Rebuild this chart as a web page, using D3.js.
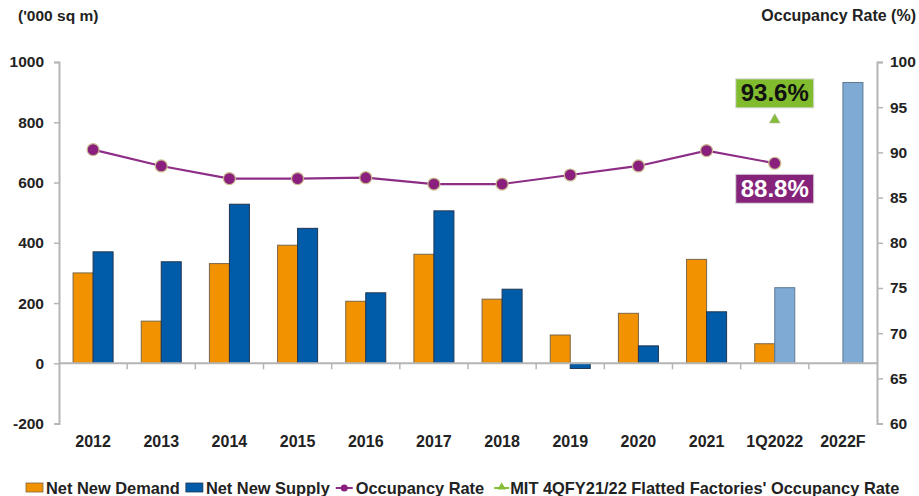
<!DOCTYPE html>
<html>
<head>
<meta charset="utf-8">
<script src="https://cdn.jsdelivr.net/npm/d3@7"></script>
<style>
  body { margin: 0; background: #fff; }
  svg text { font-family: "Liberation Sans", Arial, sans-serif; font-weight: bold; fill: #222; }
</style>
</head>
<body>
<svg id="chart" width="919" height="496"></svg>
<script>
// data
const categories = ["2012","2013","2014","2015","2016","2017","2018","2019","2020","2021","1Q2022","2022F"];
const netNewDemand = [300, 140, 331, 392, 206, 362, 213, 94, 166, 345, 65, null];
const netNewSupply = [370, 337, 528, 448, 234, 506, 246, -17, 58, 171, 251, 932];
const occupancyRate = [90.3, 88.5, 87.1, 87.1, 87.2, 86.5, 86.5, 87.5, 88.5, 90.2, 88.8, null];
const lightSupply = ["1Q2022", "2022F"];
const mitCategory = "1Q2022";
const mitRate = 93.6;
const leftTicks = [-200, 0, 200, 400, 600, 800, 1000];
const rightTicks = [60, 65, 70, 75, 80, 85, 90, 95, 100];
const legendItems = ["Net New Demand", "Net New Supply", "Occupancy Rate", "MIT 4QFY21/22 Flatted Factories' Occupancy Rate"];

const svg = d3.select("#chart");
const margin = {top: 62, bottom: 72, left: 59, right: 42};
const width = 919, height = 496;

const x = d3.scaleBand()
    .domain(categories)
    .range([margin.left, width - margin.right])
    .paddingInner(0.413)
    .paddingOuter(0.2065);
const xSub = d3.scaleBand()
    .domain(["demand", "supply"])
    .range([0, x.bandwidth()]);
const y = d3.scaleLinear().domain([-200, 1000]).range([height - margin.bottom - 0.4, margin.top]);
const y2 = d3.scaleLinear().domain([60, 100]).range([height - margin.bottom - 0.4, margin.top]);

const axisColor = "#b5b5b5";

// titles
svg.append("text").attr("x", 18).attr("y", 21).attr("font-size", 15.5).text("('000 sq m)");
svg.append("text").attr("x", 916).attr("y", 21).attr("font-size", 16).attr("text-anchor", "end").text("Occupancy Rate (%)");

// left axis
const yAxisGroup = svg.append("g").attr("transform", `translate(${margin.left},0)`)
    .call(d3.axisLeft(y).tickValues(leftTicks).tickFormat(d => String(d)).tickSize(5).tickPadding(10));
// right axis
const y2AxisGroup = svg.append("g").attr("transform", `translate(${width - margin.right},0)`)
    .call(d3.axisRight(y2).tickValues(rightTicks).tickFormat(d => String(d)).tickSize(6).tickPadding(7));
[yAxisGroup, y2AxisGroup].forEach(g => {
    g.select(".domain").attr("stroke", axisColor).attr("stroke-width", 2);
    g.selectAll(".tick line").attr("stroke", axisColor).attr("stroke-width", 1.5);
    g.selectAll(".tick text").attr("font-size", 15.5).attr("fill", "#222")
        .attr("font-family", "Liberation Sans, Arial, sans-serif").attr("font-weight", "bold");
});

// bars
const demandRows = categories.map((c, i) => ({c, v: netNewDemand[i]})).filter(d => d.v !== null);
const supplyRows = categories.map((c, i) => ({c, v: netNewSupply[i]})).filter(d => d.v !== null);

svg.selectAll("rect.demand").data(demandRows).enter().append("rect")
    .attr("class", "demand")
    .attr("x", d => x(d.c) + xSub("demand"))
    .attr("y", d => y(Math.max(0, d.v)))
    .attr("width", xSub.bandwidth())
    .attr("height", d => Math.abs(y(d.v) - y(0)))
    .attr("fill", "#f39200")
    .attr("stroke", "#7a6648").attr("stroke-width", 1);

svg.selectAll("rect.supply").data(supplyRows).enter().append("rect")
    .attr("class", "supply")
    .attr("x", d => x(d.c) + xSub("supply"))
    .attr("y", d => y(Math.max(0, d.v)))
    .attr("width", xSub.bandwidth())
    .attr("height", d => Math.abs(y(d.v) - y(0)))
    .attr("fill", d => lightSupply.includes(d.c) ? "#7eaad4" : "#005ca9")
    .attr("stroke", d => lightSupply.includes(d.c) ? "#5d7a94" : "#1f3550").attr("stroke-width", 1);

// zero line with category ticks
svg.append("line")
    .attr("x1", margin.left).attr("x2", width - margin.right)
    .attr("y1", y(0)).attr("y2", y(0))
    .attr("stroke", axisColor).attr("stroke-width", 2);
const step = x.step();
svg.selectAll("line.cattick").data(categories.slice(1)).enter().append("line")
    .attr("class", "cattick")
    .attr("x1", d => x(d) - x.paddingInner() * step / 2)
    .attr("x2", d => x(d) - x.paddingInner() * step / 2)
    .attr("y1", y(0)).attr("y2", y(0) + 6)
    .attr("stroke", axisColor).attr("stroke-width", 1.5);

// category labels
svg.selectAll("text.cat").data(categories).enter().append("text")
    .attr("class", "cat")
    .attr("x", d => x(d) + x.bandwidth() / 2)
    .attr("y", 447)
    .attr("text-anchor", "middle")
    .attr("font-size", 16)
    .text(d => d);

// occupancy line
const occRows = categories.map((c, i) => ({c, v: occupancyRate[i]})).filter(d => d.v !== null);
const cx = c => x(c) + x.bandwidth() / 2;
svg.append("path")
    .datum(occRows)
    .attr("d", d3.line().x(d => cx(d.c)).y(d => y2(d.v)))
    .attr("fill", "none")
    .attr("stroke", "#8d2d86").attr("stroke-width", 2.2);
svg.selectAll("circle.occ").data(occRows).enter().append("circle")
    .attr("class", "occ")
    .attr("cx", d => cx(d.c)).attr("cy", d => y2(d.v))
    .attr("r", 6)
    .attr("fill", "#8a1f7d")
    .attr("stroke", "#c9bd90").attr("stroke-width", 1.2);

// MIT marker
const triangle = d3.symbol().type(d3.symbolTriangle).size(50);
svg.append("path")
    .attr("d", triangle())
    .attr("transform", `translate(${cx(mitCategory)},${y2(mitRate)})`)
    .attr("fill", "#86bd38").attr("stroke", "#b6b6a0").attr("stroke-width", 0.6);

// value callouts
function callout(cxv, cyv, label, bg, fg) {
    const g = svg.append("g");
    g.append("rect")
        .attr("x", cxv - 39).attr("y", cyv - 14)
        .attr("width", 78).attr("height", 29)
        .attr("fill", bg).attr("stroke", "#d8d8d8").attr("stroke-width", 1);
    g.append("text")
        .attr("x", cxv).attr("y", cyv + 8.5)
        .attr("text-anchor", "middle")
        .attr("font-size", 24)
        .style("fill", fg)
        .text(label);
}
callout(cx(mitCategory), y2(mitRate) - 27, mitRate.toFixed(1) + "%", "#80bc2e", "#111");
const lastOcc = occRows[occRows.length - 1];
callout(cx(lastOcc.c), y2(lastOcc.v) + 25, lastOcc.v.toFixed(1) + "%", "#85237a", "#fff");

// legend
const legend = svg.append("g");
let lx = 26;
const ly = 488;
const afterGap = [6, 6, 10, 0];
legendItems.forEach((name, i) => {
    if (i === 0 || i === 1) {
        legend.append("rect").attr("x", lx).attr("y", ly - 5).attr("width", 17).attr("height", 9)
            .attr("fill", i === 0 ? "#f39200" : "#005ca9")
            .attr("stroke", i === 0 ? "#7a6648" : "#1f3550").attr("stroke-width", 0.8);
    } else if (i === 2) {
        legend.append("line").attr("x1", lx).attr("x2", lx + 17).attr("y1", ly).attr("y2", ly)
            .attr("stroke", "#8d2d86").attr("stroke-width", 2);
        legend.append("circle").attr("cx", lx + 8.5).attr("cy", ly).attr("r", 3.5).attr("fill", "#8a1f7d");
    } else {
        legend.append("line").attr("x1", lx).attr("x2", lx + 15).attr("y1", ly).attr("y2", ly)
            .attr("stroke", "#86bd38").attr("stroke-width", 2);
        legend.append("path").attr("d", d3.symbol().type(d3.symbolTriangle).size(30)())
            .attr("transform", `translate(${lx + 7.5},${ly - 1})`).attr("fill", "#86bd38");
    }
    const t = legend.append("text").attr("x", lx + (i === 3 ? 16 : 20)).attr("y", ly + 6)
        .attr("font-size", 16.4).text(name);
    lx += (i === 3 ? 16 : 20) + t.node().getComputedTextLength() + afterGap[i];
});
</script>
</body>
</html>
